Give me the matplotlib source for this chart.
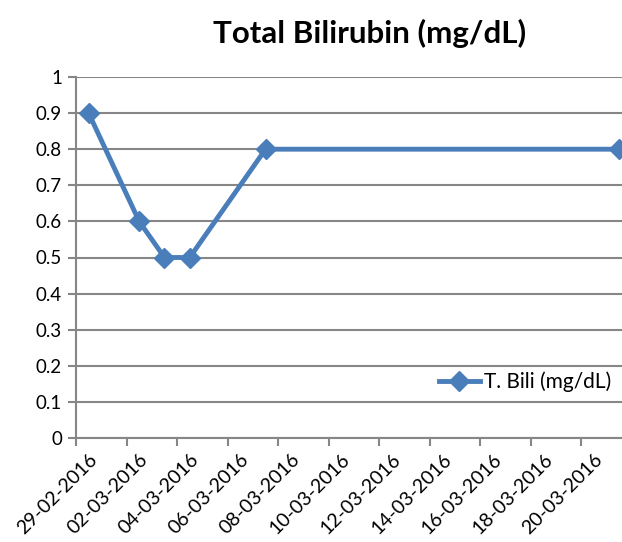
import matplotlib
matplotlib.use('Agg')
import matplotlib.pyplot as plt
import numpy as np

# days counted from 29-02-2016
day_labels = ['29-02-2016', '02-03-2016', '04-03-2016', '06-03-2016', '08-03-2016', '10-03-2016',
              '12-03-2016', '14-03-2016', '16-03-2016', '18-03-2016', '20-03-2016']
days = [0, 2, 3, 4, 7, 21]
bili = [0.9, 0.6, 0.5, 0.5, 0.8, 0.8]

plt.rcParams['font.family'] = ['Lato', 'DejaVu Sans']
blue = '#4a7ebb'
grey = '#868686'

fig = plt.figure(figsize=(6.22, 5.42), dpi=100)
ax = fig.add_axes([76 / 622, 1 - 438 / 542, 556 / 622, 361 / 542])

ax.plot(days, bili, color=blue, lw=3.5, marker='D', markersize=10, label='T. Bili (mg/dL)',
        clip_on=False, zorder=3)

ax.set_xlim(-0.5, 21.5)
ax.set_ylim(0, 1)
ax.set_yticks(np.arange(0, 1.01, 0.1))
ax.set_yticklabels(['0', '0.1', '0.2', '0.3', '0.4', '0.5', '0.6', '0.7', '0.8', '0.9', '1'])
ax.yaxis.grid(True, color=grey, lw=1.5)
ax.set_axisbelow(True)

# tick marks between days, labels centred on the day
ax.set_xticks(np.arange(-0.5, 21, 2))
ax.set_xticklabels([])
ax.set_xticks(np.arange(0, 21, 2), minor=True)
ax.set_xticklabels(day_labels, minor=True, rotation=45, ha='right', rotation_mode='anchor')
ax.tick_params(axis='x', which='minor', length=0, pad=9, labelsize=14)
ax.tick_params(axis='x', which='major', length=6, width=1.5, color=grey, direction='out')
ax.tick_params(axis='y', length=6, width=1.5, color=grey, labelsize=13.5, pad=4)

for s in ['top', 'right']:
    ax.spines[s].set_visible(False)
for s in ['left', 'bottom']:
    ax.spines[s].set_color(grey)
    ax.spines[s].set_linewidth(1.5)

fig.suptitle('Total Bilirubin (mg/dL)', x=370 / 622, y=1 - 33 / 542, va='center',
             fontsize=22.5, fontweight='bold')

fig.legend(loc='center right', bbox_to_anchor=(620 / 622, 1 - 382 / 542), frameon=False,
           fontsize=15, handlelength=2.0, handletextpad=0.2, borderaxespad=0)

fig.savefig('out.png', dpi=100)
